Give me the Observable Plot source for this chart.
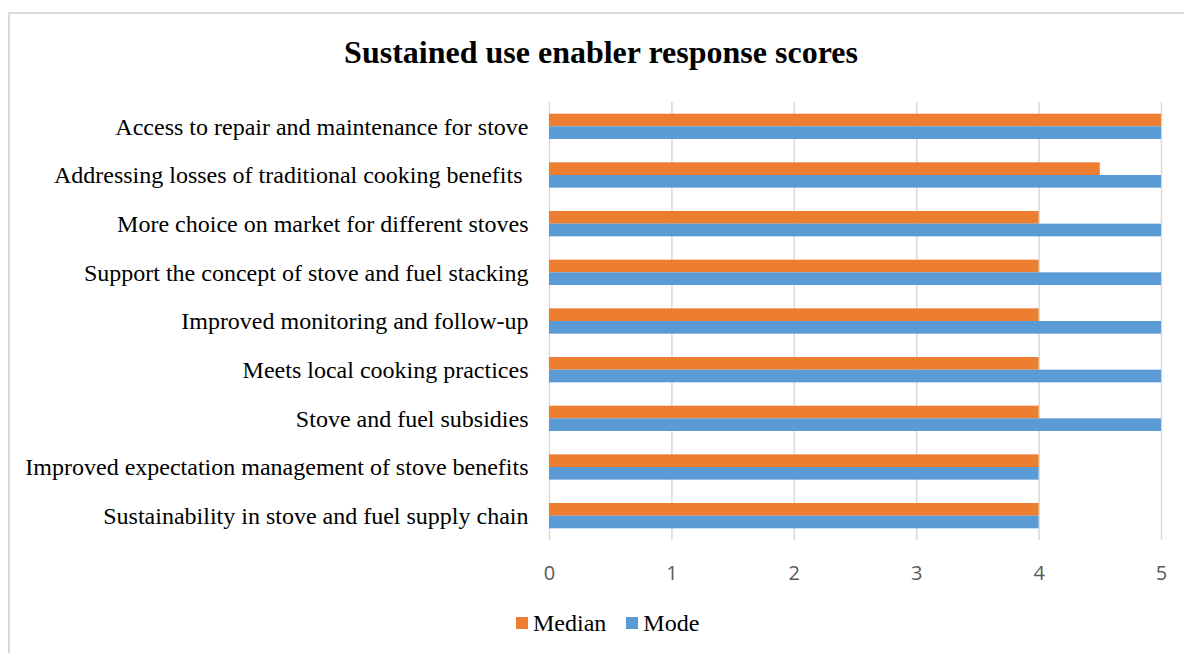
<!DOCTYPE html>
<html>
<head>
<meta charset="utf-8">
<script src="https://cdn.jsdelivr.net/npm/d3@7"></script>
<script src="https://cdn.jsdelivr.net/npm/@observablehq/plot@0.6"></script>
<style>
  html, body { margin: 0; padding: 0; background: #fff; }
  body { width: 1184px; height: 653px; overflow: hidden; position: relative; }
  #frame { position: absolute; left: 8px; top: 12px; width: 1200px; height: 700px;
           border-left: 2px solid #d9d9d9; border-top: 2px solid #d9d9d9; }
  #title { position: absolute; left: 0; top: 32px; width: 1202px; text-align: center; line-height: 40px;
           font-family: "Liberation Serif", "Times New Roman", serif; font-weight: bold; font-size: 32px; color: #000; }
  #chart { position: absolute; left: 0; top: 80px; }
  #legend { position: absolute; top: 608px; left: 516px; display: flex; align-items: center; line-height: 30px;
            font-family: "Liberation Serif", "Times New Roman", serif; font-size: 24px; color: #000; }
  .item { display: flex; align-items: center; margin-right: 20px; }
  .sw { width: 12px; height: 12px; margin-right: 5px; }
  #chart text { white-space: pre; }
</style>
</head>
<body>
<div id="frame"></div>
<div id="title">Sustained use enabler response scores</div>
<div id="chart"></div>
<div id="legend"></div>
<script>
const categories = [
  "Access to repair and maintenance for stove",
  "Addressing losses of traditional cooking benefits ",
  "More choice on market for different stoves",
  "Support the concept of stove and fuel stacking",
  "Improved monitoring and follow-up",
  "Meets local cooking practices",
  "Stove and fuel subsidies",
  "Improved expectation management of stove benefits",
  "Sustainability in stove and fuel supply chain"
];
const medianValues = [5, 4.5, 4, 4, 4, 4, 4, 4, 4];
const modeValues   = [5, 5, 5, 5, 5, 5, 5, 4, 4];
const xTicks = [0, 1, 2, 3, 4, 5];
const seriesNames = ["Median", "Mode"];
const seriesColors = ["#ED7D31", "#5B9BD5"];

const medianData = categories.map((c, i) => ({category: c, value: medianValues[i]}));
const modeData = categories.map((c, i) => ({category: c, value: modeValues[i]}));

const chart = Plot.plot({
  width: 1184,
  height: 520,
  marginLeft: 549,
  marginRight: 23,
  marginTop: 22,
  marginBottom: 60,
  style: {background: "transparent", overflow: "visible"},
  x: {domain: [0, 5], axis: null},
  y: {domain: categories, paddingInner: 0.48, paddingOuter: 0.24, round: false, axis: null},
  marks: [
    Plot.ruleX(xTicks, {x: d => d, stroke: "#d9d9d9", strokeWidth: 1.5}),
    Plot.barX(medianData, {y: "category", x: "value", fill: seriesColors[0], insetBottom: 12.65}),
    Plot.barX(modeData, {y: "category", x: "value", fill: seriesColors[1], insetTop: 12.65}),
    Plot.axisX({ticks: xTicks, tickSize: 0, tickPadding: 25, fontSize: 20, fontFamily: "'Open Sans', 'Liberation Sans', sans-serif", fill: "#595959", label: null, tickFormat: d => String(d)}),
    Plot.axisY({tickSize: 0, tickPadding: 21, fontSize: 24, fontFamily: "'Liberation Serif', 'Times New Roman', serif", fill: "#000", label: null})
  ]
});
document.getElementById("chart").appendChild(chart);

const legend = document.getElementById("legend");
seriesNames.forEach((name, i) => {
  const item = document.createElement("div");
  item.className = "item";
  const sw = document.createElement("div");
  sw.className = "sw";
  sw.style.background = seriesColors[i];
  const label = document.createElement("span");
  label.textContent = name;
  item.appendChild(sw);
  item.appendChild(label);
  legend.appendChild(item);
});
</script>
</body>
</html>
